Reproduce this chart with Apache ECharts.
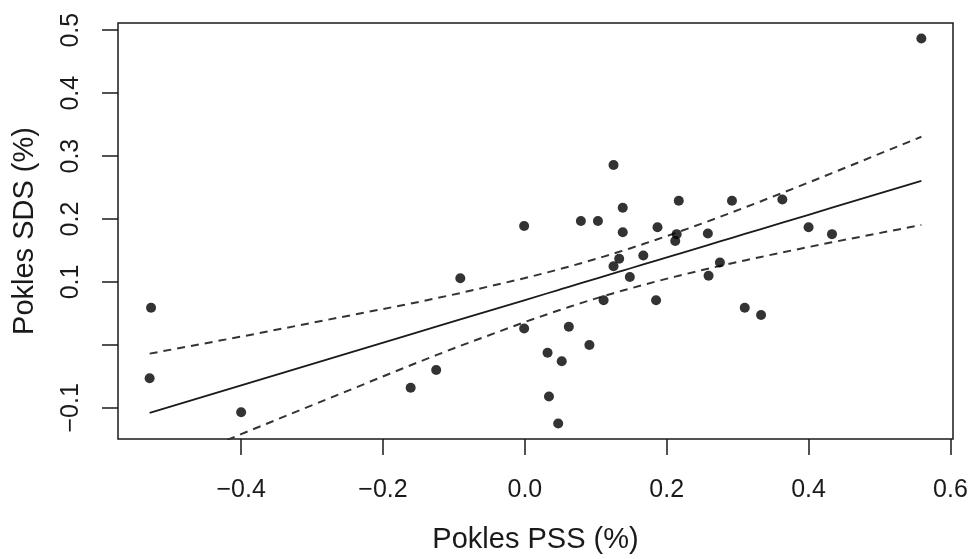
<!DOCTYPE html>
<html>
<head>
<meta charset="utf-8">
<script src="https://cdn.jsdelivr.net/npm/echarts@6/dist/echarts.min.js"></script>
<style>
  html, body { margin: 0; padding: 0; background: #fff; }
  #chart { width: 971px; height: 559px; }
</style>
</head>
<body>
<div id="chart"></div>
<script>
// Decline in PSS (%) vs decline in SDS (%), one point per subject
const pssDecline = [
  -0.527, -0.529, -0.400, -0.161, -0.125, -0.091, -0.001, -0.001, 0.032, 0.034,
   0.047,  0.052,  0.062,  0.079,  0.091,  0.103,  0.111,  0.125, 0.125, 0.133,
   0.138,  0.138,  0.148,  0.167,  0.185,  0.187,  0.212,  0.214, 0.217, 0.258,
   0.259,  0.275,  0.292,  0.310,  0.333,  0.363,  0.400,  0.433, 0.559
];
const sdsDecline = [
   0.059, -0.053, -0.107, -0.068, -0.040,  0.106,  0.189,  0.026, -0.0125, -0.082,
  -0.125, -0.026,  0.029,  0.197,  0.000,  0.197,  0.071,  0.286,  0.125,  0.137,
   0.218,  0.179,  0.108,  0.142,  0.071,  0.187,  0.165,  0.176,  0.229,  0.177,
   0.110,  0.131,  0.229,  0.059,  0.0475, 0.231,  0.187,  0.176,  0.487
];

const xTicks = [-0.4, -0.2, 0.0, 0.2, 0.4, 0.6];
const yTicks = [-0.1, 0.0, 0.1, 0.2, 0.3, 0.4, 0.5];
const yTickLabels = [-0.1, 0.1, 0.2, 0.3, 0.4, 0.5];

// Student t quantile (0.975, df = n - 2 = 37) for the 95% confidence band
const tCrit = 2.026;

// Ordinary least squares fit and confidence band of the mean
const n = pssDecline.length;
const mx = pssDecline.reduce((a, b) => a + b, 0) / n;
const my = sdsDecline.reduce((a, b) => a + b, 0) / n;
let sxx = 0, sxy = 0;
for (let i = 0; i < n; i++) {
  sxx += (pssDecline[i] - mx) ** 2;
  sxy += (pssDecline[i] - mx) * (sdsDecline[i] - my);
}
const slope = sxy / sxx;
const intercept = my - slope * mx;
let sse = 0;
for (let i = 0; i < n; i++) {
  const r = sdsDecline[i] - (intercept + slope * pssDecline[i]);
  sse += r * r;
}
const sigma = Math.sqrt(sse / (n - 2));

const xs = pssDecline.slice().sort((a, b) => a - b);
const fitLine = [], lowerBand = [], upperBand = [];
xs.forEach(x => {
  const yhat = intercept + slope * x;
  const half = tCrit * sigma * Math.sqrt(1 / n + (x - mx) ** 2 / sxx);
  fitLine.push([x, yhat]);
  lowerBand.push([x, yhat - half]);
  upperBand.push([x, yhat + half]);
});

const points = pssDecline.map((x, i) => [x, sdsDecline[i]]);
const fmt = v => (v < 0 ? '\u2212' : '') + Math.abs(v).toFixed(1);

const ink = '#1a1a1a';
const font = 'Liberation Sans, Arial, Helvetica, sans-serif';

const chart = echarts.init(document.getElementById('chart'), null, { renderer: 'canvas' });
chart.setOption({
  animation: false,
  backgroundColor: '#fff',
  grid: {
    left: 118, right: 18, top: 23, bottom: 114,
    show: true, borderColor: ink, borderWidth: 1.5, backgroundColor: 'transparent'
  },
  xAxis: {
    type: 'value',
    min: -0.5736, max: 0.6036,
    name: 'Pokles PSS (%)',
    nameLocation: 'middle',
    nameGap: 86,
    nameTextStyle: { fontFamily: font, fontSize: 29, color: ink },
    axisLine: { show: false, onZero: false },
    splitLine: { show: false },
    axisTick: {
      show: true, inside: false, length: 16,
      customValues: xTicks,
      lineStyle: { color: ink, width: 1.5 }
    },
    axisLabel: {
      customValues: xTicks,
      formatter: fmt,
      margin: 39,
      fontFamily: font, fontSize: 25, color: ink
    }
  },
  yAxis: {
    type: 'value',
    min: -0.1495, max: 0.5115,
    name: 'Pokles SDS (%)',
    nameLocation: 'middle',
    nameGap: 79,
    nameRotate: 90,
    nameTextStyle: { fontFamily: font, fontSize: 29, color: ink },
    axisLine: { show: false, onZero: false },
    splitLine: { show: false },
    axisTick: {
      show: true, inside: false, length: 16,
      customValues: yTicks,
      lineStyle: { color: ink, width: 1.5 }
    },
    axisLabel: {
      customValues: yTickLabels,
      formatter: fmt,
      rotate: 90,
      margin: 34,
      fontFamily: font, fontSize: 25, color: ink
    }
  },
  series: [
    {
      type: 'line', data: upperBand, showSymbol: false, clip: true,
      lineStyle: { color: '#333', width: 2, type: [8, 6] }, z: 2
    },
    {
      type: 'line', data: lowerBand, showSymbol: false, clip: true,
      lineStyle: { color: '#333', width: 2, type: [8, 6] }, z: 2
    },
    {
      type: 'line', data: fitLine, showSymbol: false, clip: true,
      lineStyle: { color: ink, width: 1.8 }, z: 3
    },
    {
      type: 'scatter', data: points, symbol: 'circle', symbolSize: 10,
      itemStyle: { color: '#000' }, z: 4
    }
  ]
});
</script>
</body>
</html>
